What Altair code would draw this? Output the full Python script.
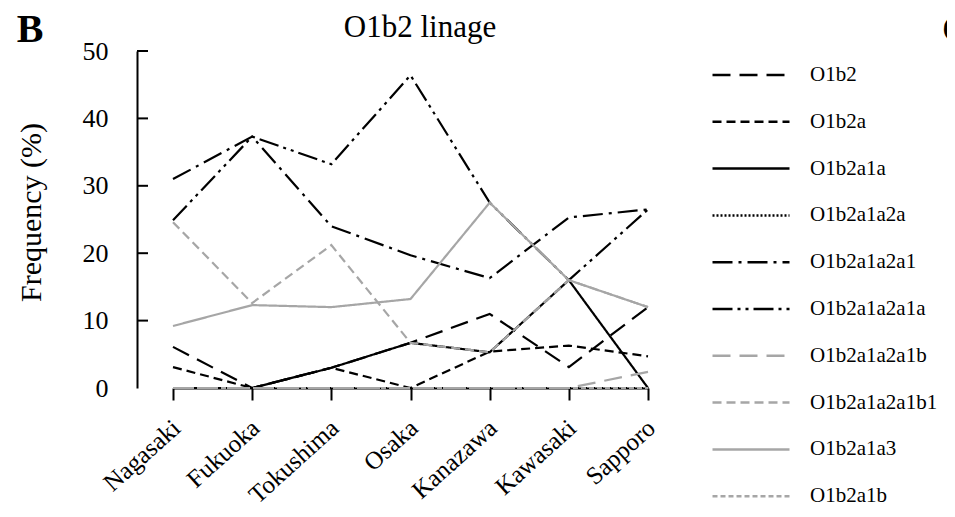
import altair as alt
import pandas as pd

cities = ["Nagasaki", "Fukuoka", "Tokushima", "Osaka", "Kanazawa", "Kawasaki", "Sapporo"]
series = ["O1b2", "O1b2a", "O1b2a1a", "O1b2a1a2a", "O1b2a1a2a1", "O1b2a1a2a1a",
          "O1b2a1a2a1b", "O1b2a1a2a1b1", "O1b2a1a3", "O1b2a1b"]

o1b2 = [6.1, 0.0, 3.0, 6.7, 11.0, 3.1, 12.0]
o1b2a = [3.1, 0.0, 3.0, 0.0, 5.4, 6.3, 4.7]
o1b2a1a = [0.0, 0.0, 3.0, 6.7, 5.3, 16.0, 0.0]
o1b2a1a2a = [0.0, 0.0, 0.0, 0.0, 0.0, 0.0, 0.0]
o1b2a1a2a1 = [31.0, 37.3, 24.0, 19.7, 16.3, 25.3, 26.5]
o1b2a1a2a1a = [24.9, 37.3, 33.2, 46.4, 27.5, 16.0, 26.5]
o1b2a1a2a1b = [0.0, 0.0, 0.0, 0.0, 0.0, 0.0, 2.4]
o1b2a1a2a1b1 = [24.6, 12.6, 21.2, 6.7, 5.3, 16.0, 12.0]
o1b2a1a3 = [9.2, 12.3, 12.0, 13.2, 27.5, 16.0, 12.0]
o1b2a1b = [0.0, 0.0, 0.0, 0.0, 0.0, 0.0, 0.0]

values = [o1b2, o1b2a, o1b2a1a, o1b2a1a2a, o1b2a1a2a1, o1b2a1a2a1a,
          o1b2a1a2a1b, o1b2a1a2a1b1, o1b2a1a3, o1b2a1b]

line_colors = ["#000000", "#000000", "#000000", "#000000", "#000000", "#000000",
               "#a6a6a6", "#a6a6a6", "#a6a6a6", "#a6a6a6"]
line_dashes = [[18, 9], [9, 5], [1, 0], [2, 2], [20, 6, 3, 6], [20, 5, 3, 5, 3, 5],
               [18, 9], [9, 5], [1, 0], [5, 3]]

y_ticks = [0, 10, 20, 30, 40, 50]
inner_ticks = [10, 20, 30, 40, 50]

rows = []
for s, vals in zip(series, values):
    for i, (c, v) in enumerate(zip(cities, vals)):
        rows.append({"series": s, "city": c, "idx": i, "freq": v})
df = pd.DataFrame(rows)

FONT = "Liberation Serif"

legend = alt.Legend(
    title=None, orient="none", legendX=574, legendY=13, padding=0,
    symbolType="stroke", symbolSize=5929, symbolStrokeWidth=2.5,
    clipHeight=22, rowPadding=24.8, labelFont=FONT, labelFontSize=21,
    labelColor="black", labelOffset=19, labelLimit=300,
)

yscale = alt.Scale(domain=[0, 50], nice=False, zero=True)

lines = alt.Chart(df).mark_line(strokeWidth=2.2).encode(
    x=alt.X("city:N", sort=cities, title=None,
            scale=alt.Scale(type="point", range=[36, 511], padding=0),
            axis=alt.Axis(labelAngle=-42, labelAlign="right", labelBaseline="top",
                          labelFont=FONT, labelFontSize=25, labelColor="black",
                          labelPadding=15, labelOffset=-5, tickSize=12, tickWidth=2,
                          tickColor="black", domainColor="black", domainWidth=2,
                          grid=False, labelOverlap=False)),
    y=alt.Y("freq:Q", scale=yscale, title="Frequency (%)",
            axis=alt.Axis(values=y_ticks, ticks=False, labelPadding=29,
                          labelFont=FONT, labelFontSize=26, labelColor="black",
                          domainColor="black", domainWidth=2, grid=False,
                          titleFont=FONT, titleFontSize=30, titleFontWeight="normal",
                          titleColor="black", titleAngle=-90, titleX=-106, titleY=161,
                          titleAlign="center", titleBaseline="middle")),
    color=alt.Color("series:N", sort=series,
                    scale=alt.Scale(domain=series, range=line_colors), legend=legend),
    strokeDash=alt.StrokeDash("series:N", sort=series,
                              scale=alt.Scale(domain=series, range=line_dashes), legend=legend),
    order=alt.Order("idx:Q"),
)

ticks = alt.Chart(pd.DataFrame({"t": inner_ticks})).mark_rule(color="black", strokeWidth=2).encode(
    y=alt.Y("t:Q", scale=yscale),
    x=alt.value(0),
    x2=alt.value(11),
)

title_txt = alt.Chart(pd.DataFrame({"txt": ["O1b2 linage"]})).mark_text(
    font=FONT, fontSize=31, align="center", baseline="alphabetic", color="black"
).encode(text="txt:N", x=alt.value(283), y=alt.value(-14))

letter_b = alt.Chart(pd.DataFrame({"txt": ["B"]})).mark_text(
    font=FONT, fontSize=40, fontWeight="bold", align="center", baseline="alphabetic", color="black"
).encode(text="txt:N", x=alt.value(-107), y=alt.value(-9))

letter_c = alt.Chart(pd.DataFrame({"txt": ["C"]})).mark_text(
    font=FONT, fontSize=40, fontWeight="bold", align="left", baseline="alphabetic", color="black"
).encode(text="txt:N", x=alt.value(805), y=alt.value(-9))

chart = alt.layer(lines, ticks, title_txt, letter_b, letter_c).properties(
    width=536, height=337,
    background="white",
    autosize=alt.AutoSizeParams(type="none"),
    padding={"left": 129, "top": 43, "right": 274, "bottom": 117},
).configure_view(stroke=None)

chart.save("out.html", embed_options={"renderer": "svg", "actions": False})
